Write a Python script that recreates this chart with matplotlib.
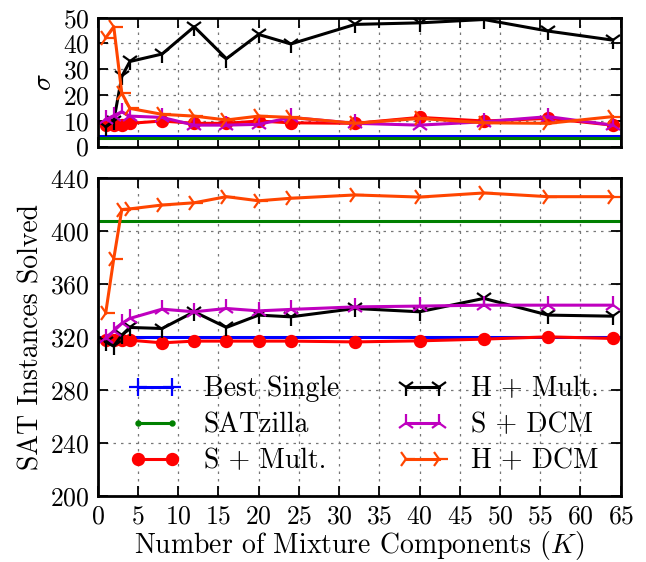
import matplotlib
matplotlib.use("Agg")
import matplotlib.pyplot as plt
from matplotlib.lines import Line2D

plt.rcParams['font.family'] = ['cmr10', 'DejaVu Serif']
plt.rcParams['mathtext.fontset'] = 'cm'
plt.rcParams['axes.formatter.use_mathtext'] = True

K = [1, 2, 3, 4, 8, 12, 16, 20, 24, 32, 40, 48, 56, 64]

# sigma (top panel)
sig_best = 4.1
sig_satzilla = 3.4
sig_s_mult = [8.3, 8.3, 8.3, 9.0, 9.9, 9.0, 9.0, 9.9, 9.2, 9.0, 11.3, 9.9, 10.9, 8.3]
sig_h_mult = [7.7, 10.0, 27.2, 33.0, 35.9, 46.5, 34.1, 43.5, 39.8, 47.4, 48.0, 49.3, 44.8, 41.3]
sig_s_dcm = [10.5, 12.0, 13.5, 11.8, 11.3, 8.3, 8.3, 8.6, 11.3, 9.0, 8.3, 9.6, 11.6, 8.3]
sig_h_dcm = [42.2, 46.5, 20.7, 14.8, 12.5, 11.8, 10.3, 11.8, 11.3, 9.0, 10.9, 9.2, 9.0, 11.6]

# SAT instances solved (bottom panel)
sol_best = 320
sol_satzilla = 407.5
sol_s_mult = [317.5, 317.5, 317.5, 317.5, 315.5, 316.8, 316.8, 316.8, 316.8, 316.2, 317.0, 318.3, 320.0, 318.8]
sol_h_mult = [316.2, 313.0, 321.3, 327.1, 326.3, 338.9, 327.1, 336.4, 335.1, 341.4, 338.9, 349.0, 336.4, 335.6]
sol_s_dcm = [318.8, 324.5, 330.1, 333.9, 340.9, 338.9, 341.4, 339.6, 340.7, 342.6, 343.2, 343.9, 343.9, 343.9]
sol_h_dcm = [338.0, 379.0, 416.0, 416.5, 419.4, 421.1, 425.7, 422.6, 424.5, 427.0, 425.4, 428.5, 425.7, 425.7]

labels = ['Best Single', 'SATzilla', 'S + Mult.', 'H + Mult.', 'S + DCM', 'H + DCM']
colors = ['#0000ff', '#008000', '#ff0000', '#000000', '#bf00bf', '#ff4500']
markers = ['+', '.', 'o', '1', '2', '4']
msizes = [13, 6, 8, 13, 13, 13]

fig = plt.figure(figsize=(6.46, 5.62), dpi=100)
ax1 = fig.add_axes([0.1512, 0.7393, 0.8096, 0.2292])
ax2 = fig.add_axes([0.1512, 0.1174, 0.8096, 0.5664])

top = [(sig_best, sig_satzilla), [sig_s_mult, sig_h_mult, sig_s_dcm, sig_h_dcm]]
bot = [(sol_best, sol_satzilla), [sol_s_mult, sol_h_mult, sol_s_dcm, sol_h_dcm]]

for ax, (consts, series) in ((ax1, top), (ax2, bot)):
    for v, c in zip(consts, colors[:2]):
        ax.axhline(v, color=c, linewidth=2.2)
    for ys, c, m, ms in zip(series, colors[2:], markers[2:], msizes[2:]):
        ax.plot(K, ys, color=c, marker=m, markersize=ms, markeredgewidth=1.6,
                linewidth=2.2, markeredgecolor=c, markerfacecolor=c)
    ax.set_xlim(0, 65)
    ax.set_xticks(range(0, 66, 5))
    ax.grid(True, color='#777777', linestyle=(0, (2, 4)), linewidth=0.9)
    ax.tick_params(direction='in', top=True, right=True, length=7, width=1.3,
                   labelsize=18.5, pad=6)
    for sp in ax.spines.values():
        sp.set_linewidth(2.0)

ax1.set_ylim(0, 50)
ax1.set_yticks(range(0, 51, 10))
ax1.tick_params(labelbottom=False)
ax1.set_ylabel(r'$\sigma$', fontsize=20)

ax2.set_ylim(200, 440)
ax2.set_yticks(range(200, 441, 40))
ax2.set_ylabel('SAT Instances Solved', fontsize=20)
ax2.set_xlabel(r'Number of Mixture Components $(K)$', fontsize=20, labelpad=1)

handles = [Line2D([], [], color=c, marker=m, markersize=ms, markeredgewidth=1.6,
                  linewidth=2.2, markeredgecolor=c, markerfacecolor=c)
           for c, m, ms in zip(colors, markers, msizes)]
ax2.legend(handles, labels, loc='center', bbox_to_anchor=(0.51, 0.223), ncol=2,
           frameon=False, fontsize=20, numpoints=2, handlelength=1.8,
           handletextpad=0.85, columnspacing=2.1, labelspacing=0.35)

fig.align_ylabels([ax1, ax2])
fig.savefig('out.png', dpi=100)
